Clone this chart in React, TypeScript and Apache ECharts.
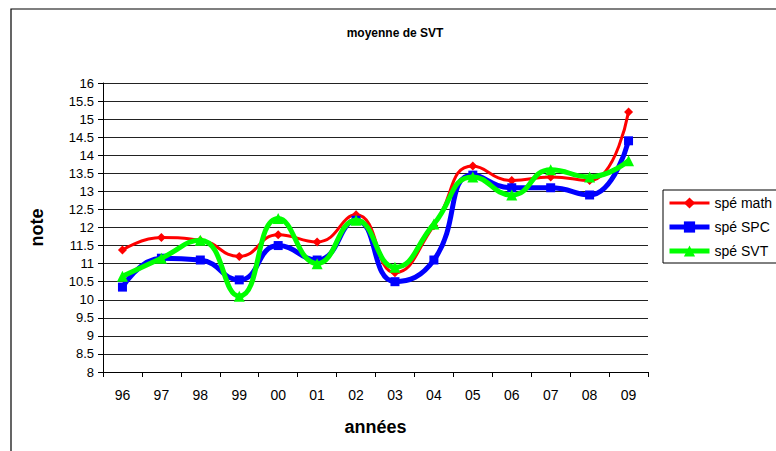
import React, { useEffect, useRef } from "react";
import * as echarts from "echarts";

const years = ["96", "97", "98", "99", "00", "01", "02", "03", "04", "05", "06", "07", "08", "09"];
const speMath = [11.38, 11.72, 11.65, 11.2, 11.8, 11.6, 12.35, 10.75, 12.05, 13.7, 13.3, 13.4, 13.3, 15.2];
const speSPC = [10.35, 11.15, 11.1, 10.55, 11.5, 11.1, 12.2, 10.5, 11.1, 13.45, 13.1, 13.1, 12.9, 14.4];
const speSVT = [10.65, 11.15, 11.65, 10.1, 12.25, 11.0, 12.2, 10.9, 12.1, 13.4, 12.9, 13.6, 13.4, 13.85];

const FONT = "Liberation Sans, Arial, sans-serif";

export default function App() {
  const ref = useRef<HTMLDivElement>(null);
  useEffect(() => {
    if (!ref.current) return;
    const chart = echarts.init(ref.current, undefined, { renderer: "svg" });
    chart.setOption({
      animation: false,
      backgroundColor: "#fff",
      textStyle: { fontFamily: FONT },
      title: {
        text: "moyenne de SVT",
        left: 390,
        textAlign: "center",
        top: 22,
        textStyle: { fontSize: 12, fontWeight: "bold", color: "#000", fontFamily: FONT },
      },
      graphic: [
        {
          type: "rect",
          shape: { x: 11, y: 9, width: 900, height: 600 },
          style: { fill: "none", stroke: "#000", lineWidth: 1.2 },
          silent: true,
        },
      ],
      legend: {
        orient: "vertical",
        left: 663,
        top: 190,
        itemWidth: 40,
        itemHeight: 14,
        itemGap: 10,
        padding: [6, 80, 5, 4],
        borderColor: "#000",
        borderWidth: 1,
        textStyle: { fontSize: 14, color: "#000", fontFamily: FONT },
        data: [
          { name: "spé math", lineStyle: { width: 3 } },
          { name: "spé SPC", lineStyle: { width: 5 } },
          { name: "spé SVT", lineStyle: { width: 5 } },
        ],
      },
      grid: { left: 103, top: 83, width: 545, height: 289, containLabel: false },
      xAxis: {
        type: "category",
        data: years,
        boundaryGap: true,
        name: "années",
        nameLocation: "middle",
        nameGap: 46,
        nameTextStyle: { fontSize: 18, fontWeight: "bold", color: "#000", fontFamily: FONT },
        axisLine: { lineStyle: { color: "#000", width: 1 } },
        axisTick: { show: true, length: 5, inside: false, lineStyle: { color: "#000" } },
        axisLabel: { fontSize: 14, color: "#000", margin: 16, fontFamily: FONT },
        splitLine: { show: false },
      },
      yAxis: {
        type: "value",
        min: 8,
        max: 16,
        interval: 0.5,
        name: "note",
        nameLocation: "middle",
        nameGap: 57,
        nameRotate: 90,
        nameTextStyle: { fontSize: 18, fontWeight: "bold", color: "#000", fontFamily: FONT },
        axisLine: { show: true, lineStyle: { color: "#000", width: 1 } },
        axisTick: { show: true, length: 5, lineStyle: { color: "#000" } },
        axisLabel: { fontSize: 13, color: "#000", margin: 9, fontFamily: FONT },
        splitLine: { show: true, lineStyle: { color: "#222", width: 1 } },
      },
      series: [
        {
          name: "spé math",
          type: "line",
          data: speMath,
          smooth: 0.5,
          symbol: "diamond",
          symbolSize: 9,
          itemStyle: { color: "#ff0000" },
          lineStyle: { color: "#ff0000", width: 3 },
          z: 3,
        },
        {
          name: "spé SPC",
          type: "line",
          data: speSPC,
          smooth: 0.5,
          symbol: "rect",
          symbolSize: 9,
          itemStyle: { color: "#0000ff" },
          lineStyle: { color: "#0000ff", width: 5 },
          z: 4,
        },
        {
          name: "spé SVT",
          type: "line",
          data: speSVT,
          smooth: 0.5,
          symbol: "triangle",
          symbolSize: 11,
          itemStyle: { color: "#00ff00" },
          lineStyle: { color: "#00ff00", width: 5 },
          z: 5,
        },
      ],
    });
    return () => chart.dispose();
  }, []);
  return <div ref={ref} style={{ width: 776, height: 451, position: "absolute", left: 0, top: 0 }} />;
}
